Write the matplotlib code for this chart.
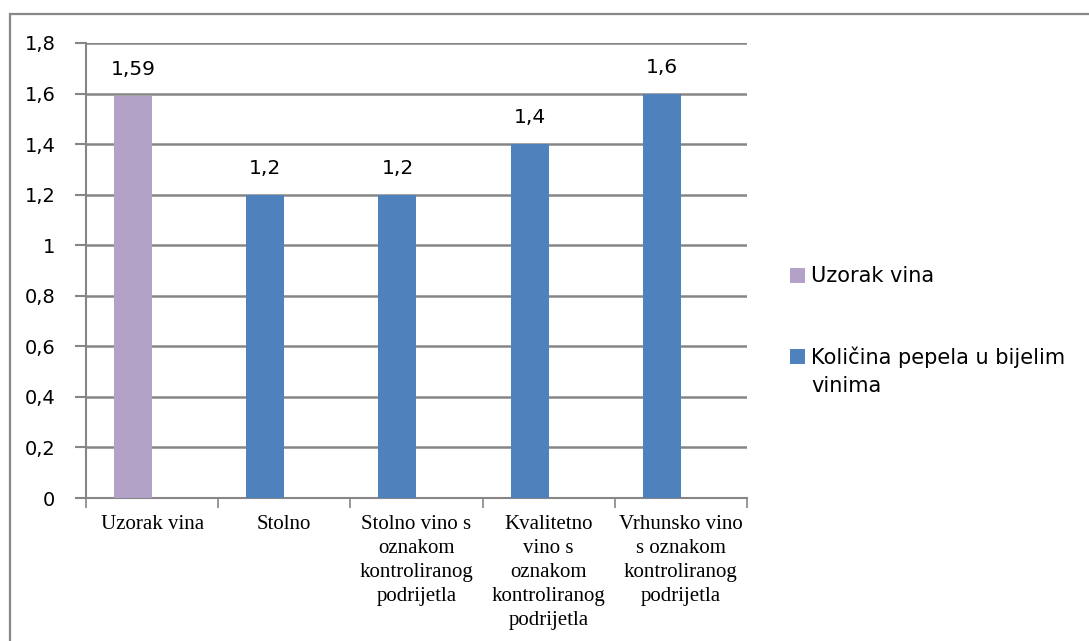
import matplotlib
matplotlib.use("Agg")
import matplotlib.pyplot as plt
import numpy as np
from matplotlib.patches import Rectangle

categories = ["Uzorak vina", "Stolno", "Stolno vino s\noznakom\nkontroliranog\npodrijetla",
              "Kvalitetno\nvino s\noznakom\nkontroliranog\npodrijetla",
              "Vrhunsko vino\ns oznakom\nkontroliranog\npodrijetla"]
uzorak = [1.59, np.nan, np.nan, np.nan, np.nan]
kolicina = [np.nan, 1.2, 1.2, 1.4, 1.6]
uzorak_labels = ["1,59", "", "", "", ""]
kolicina_labels = ["", "1,2", "1,2", "1,4", "1,6"]
yticks = [0, 0.2, 0.4, 0.6, 0.8, 1.0, 1.2, 1.4, 1.6, 1.8]
ytick_labels = ["0", "0,2", "0,4", "0,6", "0,8", "1", "1,2", "1,4", "1,6", "1,8"]
series_names = ["Uzorak vina", "Količina pepela u bijelim\nvinima"]
series_colors = ["#B2A2C7", "#4F81BD"]

W, H = 1089, 641
fig = plt.figure(figsize=(W / 100, H / 100), dpi=100)
ax = fig.add_axes([86 / W, 1 - 498 / H, (747 - 86) / W, (498 - 43) / H])

grid_c = "#868686"
x = np.arange(len(categories))
bw = 0.2875
off = -0.144
b1 = ax.bar(x + off, uzorak, bw, color=series_colors[0], label=series_names[0], zorder=3)
b2 = ax.bar(x + off, kolicina, bw, color=series_colors[1], label=series_names[1], zorder=3)

lab_font = dict(family="DejaVu Sans", size=14.5, color="black")
for xi, v, t in zip(x, uzorak, uzorak_labels):
    if t:
        ax.annotate(t, (xi + off, v), xytext=(0, 17), textcoords="offset pixels",
                    ha="center", va="bottom", **lab_font)
for xi, v, t in zip(x, kolicina, kolicina_labels):
    if t:
        ax.annotate(t, (xi + off, v), xytext=(0, 17), textcoords="offset pixels",
                    ha="center", va="bottom", **lab_font)

ax.set_xlim(-0.5, len(categories) - 0.5)
ax.set_ylim(0, 1.8)
ax.set_yticks(yticks)
ax.set_yticklabels(ytick_labels, family="DejaVu Sans", fontsize=14)
ax.set_xticks(x)
ax.set_xticklabels(categories, family="Liberation Serif", fontsize=15, linespacing=1.37,
                   va="top")
ax.set_xticks(np.arange(len(categories) + 1) - 0.5, minor=True)
ax.tick_params(axis="x", which="major", length=0, pad=12)
ax.tick_params(axis="x", which="minor", length=7, width=1.2, color=grid_c)
ax.tick_params(axis="y", length=8, width=1.5, color=grid_c, pad=14)

ax.yaxis.grid(True, color=grid_c, lw=1.8, zorder=0)
ax.set_axisbelow(True)
for s in ["top", "right"]:
    ax.spines[s].set_visible(False)
for s in ["left", "bottom"]:
    ax.spines[s].set_color(grid_c)
    ax.spines[s].set_linewidth(1.5)

# legend (square aligned with first line of each label)
leg_first_line_y = [275.5, 356.5]
sq = 15
for name, col, yc in zip(series_names, series_colors, leg_first_line_y):
    fig.add_artist(Rectangle((790 / W, 1 - (yc + sq / 2) / H), sq / W, sq / H,
                             transform=fig.transFigure, facecolor=col, edgecolor="none"))
    nlines = name.count("\n") + 1
    yc_block = yc + (nlines - 1) * 30 / 2
    fig.text(811 / W, 1 - yc_block / H, name, family="DejaVu Sans", fontsize=15,
             ha="left", va="center", linespacing=1.52)

fig.add_artist(Rectangle((10 / W, -0.1), 1.2, 1 - 14 / H + 0.1, transform=fig.transFigure,
                         fill=False, edgecolor="#888888", lw=1.6))

fig.savefig("out.png", dpi=100)
